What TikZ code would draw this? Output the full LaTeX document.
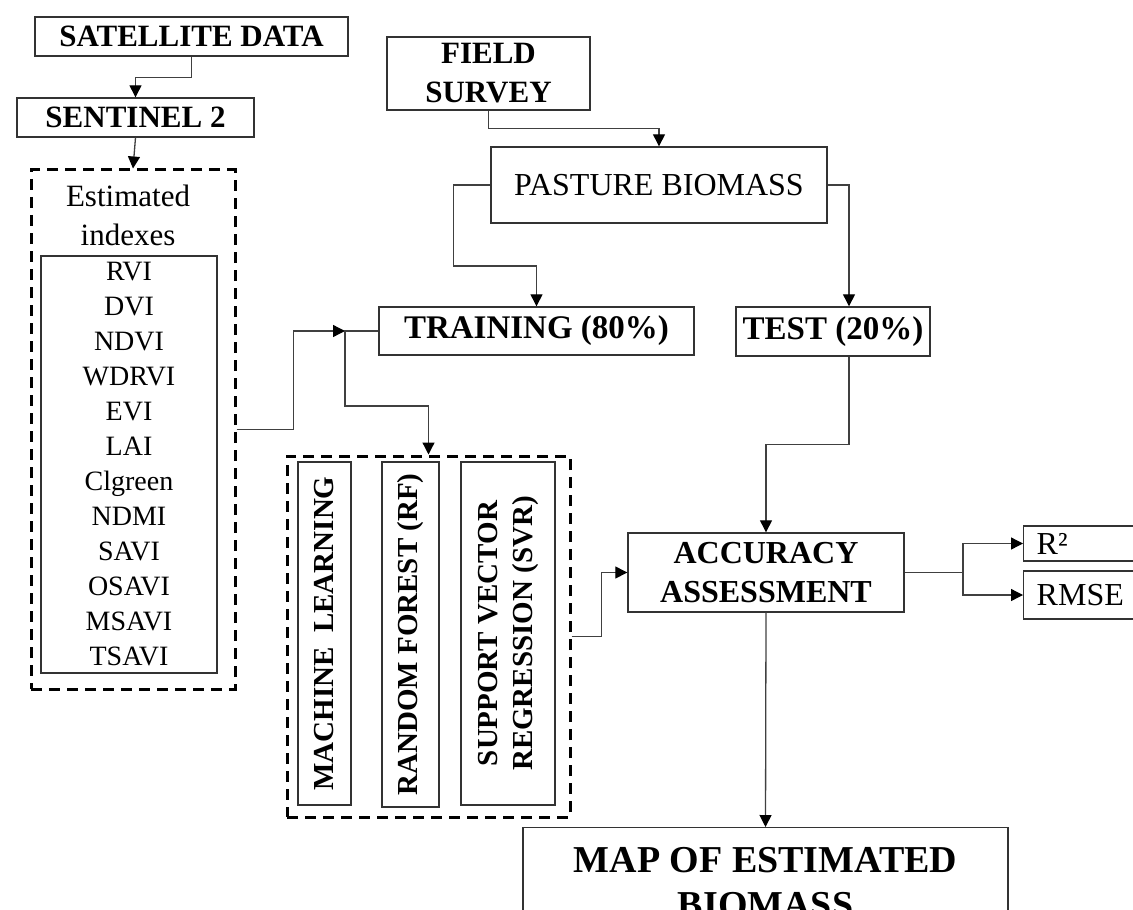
\documentclass[tikz,border=0pt]{standalone}
\usepackage{fontspec}
\setmainfont{Liberation Serif}
\usetikzlibrary{arrows.meta}

\begin{document}
\begin{tikzpicture}[x=0.5pt,y=-0.5pt,
    >={Triangle[length=6pt,width=6pt,color=black]},
    box/.style={draw=black!80,line width=0.7pt,rectangle,inner sep=0pt,align=center},
    grp/.style={draw=black,line width=1.5pt,dash pattern=on 5.5pt off 3.5pt,rectangle,inner sep=0pt},
    wire/.style={draw=black!75,line width=0.65pt},
    link/.style={wire,->},
    hd/.style={font=\fontsize{15.5}{19.5}\selectfont\bfseries},
    hdb/.style={font=\fontsize{16.5}{19.5}\selectfont\bfseries},
    txt/.style={font=\fontsize{16}{19.5}\selectfont},
    vert/.style={box,rotate=90,font=\fontsize{14.5}{17.5}\selectfont\bfseries}]
        \useasboundingbox (0,0) rectangle (1133,909);
        \clip (0,0) rectangle (1133,909);
        % dati satellitari
        \node[box,hd,minimum width=156.5pt,minimum height=19.5pt] (sat) at (191.5,36.5) {SATELLITE DATA};
        \node[box,hd,minimum width=118.5pt,minimum height=19.5pt] (sen) at (135.5,117.5) {SENTINEL 2};
        % indici stimati
        \node[grp,minimum width=102pt,minimum height=259.5pt] (idx) at (133,429.5) {};
        \node[font=\fontsize{15.5}{19.5}\selectfont,align=center] (idxtit) at (128,215) {Estimated\\indexes};
        \node[box,minimum width=88pt,minimum height=208.5pt,font=\fontsize{14}{17.5}\selectfont] (idxlist) at (129,464.5)
            {RVI\\DVI\\NDVI\\WDRVI\\EVI\\LAI\\Clgreen\\NDMI\\SAVI\\OSAVI\\MSAVI\\TSAVI};
        % rilievo in campo
        \node[box,hd,minimum width=101.5pt,minimum height=36.5pt] (field) at (488.5,73.5) {FIELD\\SURVEY};
        \node[box,txt,minimum width=168pt,minimum height=38pt] (pb) at (659,185) {PASTURE BIOMASS};
        \node[box,hdb,minimum width=157.5pt,minimum height=24pt] (train) at (536.5,331) {TRAINING (80\%)};
        \node[box,hdb,minimum width=97pt,minimum height=24.5pt] (test) at (833,331.5) {TEST (20\%)};
        % modelli
        \node[grp,minimum width=141.5pt,minimum height=180.5pt] (mlgrp) at (428.5,636.5) {};
        \node[vert,minimum width=171.5pt,minimum height=26.5pt] (ml) at (324.5,633.5) {MACHINE\ \ LEARNING};
        \node[vert,minimum width=172.5pt,minimum height=28.5pt] (rf) at (410.5,634.5) {RANDOM FOREST (RF)};
        \node[vert,minimum width=171.5pt,minimum height=47pt] (svr) at (508,633.5) {SUPPORT VECTOR\\REGRESSION (SVR)};
        % valutazione
        \node[box,font=\fontsize{16}{19.5}\selectfont\bfseries,minimum width=138pt,minimum height=39.5pt] (acc) at (766,572.5) {ACCURACY\\ASSESSMENT};
        \node[box,txt,anchor=west,text width=55pt,inner xsep=6.5pt,minimum height=17.5pt,align=left] (r2) at (1023,543.5) {R²};
        \node[box,txt,anchor=west,text width=55pt,inner xsep=6.5pt,minimum height=24pt,align=left] (rmse) at (1023,595) {RMSE};
        \node[box,anchor=north,minimum width=242.5pt,inner ysep=10pt,font=\fontsize{19}{22.5}\selectfont\bfseries] (map) at (765.5,827)
            {MAP OF ESTIMATED\\BIOMASS};
        % collegamenti
        \coordinate (jn) at (345,331);
        \coordinate (sp) at (963,572.5);
        \draw[link] (sat.south) -- ++(0,21) -| (sen.north);
        \draw[link] (sen.south) -- (idx.north);
        \draw[link] (field.south) -- ++(0,18) -| (pb.north);
        \draw[link] (pb.west) -| ++(-37,81) -| (train.north);
        \draw[link] (pb.east) -| ([xshift=8pt]test.north);
        \draw[link] ([xshift=8pt]test.south) -- ++(0,88) -| (acc.north);
        \draw[link] (idx.east) -- ++(57,0) |- (jn);
        \draw[link] (train.west) -- (jn) -- ++(0,75) -| (mlgrp.north);
        \draw[link] (mlgrp.east) -- ++(30,0) |- (acc.west);
        \draw[wire] (acc.east) -- (sp);
        \draw[link] (sp) |- (r2.west);
        \draw[link] (sp) |- (rmse.west);
        \draw[link] (acc.south) -- (map.north);
    \end{tikzpicture}
\end{document}
